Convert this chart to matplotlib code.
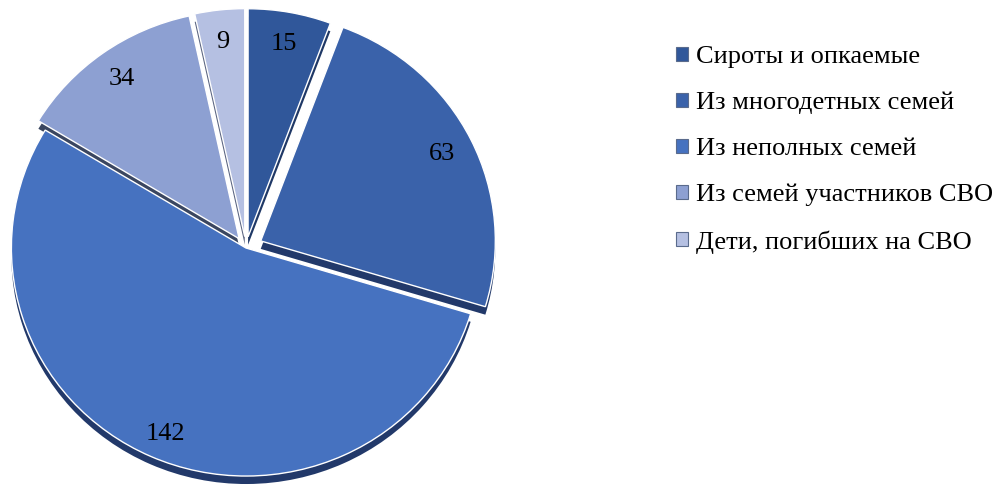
import matplotlib
matplotlib.use("Agg")
import matplotlib.pyplot as plt
import numpy as np

categories = ["Сироты и опкаемые", "Из многодетных семей", "Из неполных семей",
              "Из семей участников СВО", "Дети, погибших на СВО"]
values = [15, 63, 142, 34, 9]
colors = ["#30579A", "#3A62AA", "#4672C0", "#8DA0D2", "#B5C0E2"]
side_colors = ["#1F3866", "#22396A", "#22396A", "#3A4660", "#5A6480"]
explode = [0.05, 0.07, 0.0, 0.05, 0.05]

plt.rcParams['font.family'] = ['Liberation Serif', 'DejaVu Serif']

W, H = 1006, 488
fig = plt.figure(figsize=(W / 100, H / 100), dpi=100)
cx = 246
size = 488
ax = fig.add_axes([(cx - size / 2) / W, 0, size / W, 1])

# side (depth) layer
ax.pie(values, colors=side_colors, startangle=90, counterclock=False,
       explode=explode, center=(0, -0.035), radius=1.0,
       wedgeprops=dict(linewidth=0))
# top layer
wedges, texts = ax.pie(values, colors=colors, startangle=90, counterclock=False,
                       explode=explode, radius=1.0, labels=[str(v) for v in values],
                       labeldistance=0.86,
                       wedgeprops=dict(linewidth=1.0, edgecolor='white'),
                       textprops=dict(fontsize=19, color='black'))
for t in texts:
    t.set_ha('center')
    t.set_va('center')
# the largest slice's label sits a bit further out
x142, y142 = texts[2].get_position()
texts[2].set_position((x142 * 0.98, y142 * 1.04))

ax.set_aspect('auto')
ax.set_xlim(-1.04, 1.04)
yc = 4 / 228
ax.set_ylim(-1.07 + yc, 1.07 + yc)
ax.axis('off')

leg = fig.legend(wedges, categories, loc='upper left',
                 bbox_to_anchor=(663 / W, 1 - 33 / H), frameon=False,
                 fontsize=19, handlelength=0.45, handleheight=0.45,
                 handletextpad=0.3, labelspacing=0.9, borderpad=0)
for h in leg.legend_handles:
    h.set_edgecolor('#5a6b8c')
    h.set_linewidth(0.8)

fig.savefig("out.png", dpi=100)
